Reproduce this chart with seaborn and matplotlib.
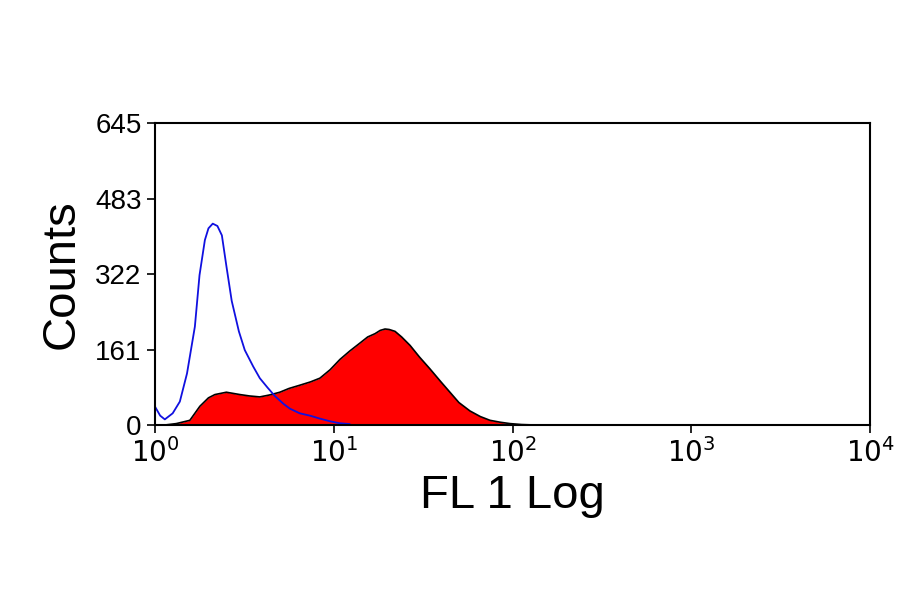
import numpy as np
import matplotlib
matplotlib.use("Agg")
import matplotlib.pyplot as plt
import seaborn as sns

# log10 fluorescence positions and counts
blue_log = [0.0, 0.03, 0.056, 0.10, 0.14, 0.18, 0.224, 0.25, 0.28, 0.30, 0.324, 0.35, 0.375, 0.40, 0.43,
            0.47, 0.503, 0.55, 0.587, 0.63, 0.671, 0.72, 0.755, 0.81, 0.867, 0.92, 0.979, 1.03, 1.09]
blue_counts = [40, 20, 12, 25, 50, 110, 210, 320, 395, 420, 430, 425, 405, 340, 265,
               200, 160, 125, 100, 80, 62, 45, 35, 25, 20, 14, 8, 4, 2]

red_log = [0.056, 0.12, 0.196, 0.252, 0.30, 0.336, 0.40, 0.476, 0.53, 0.587, 0.64, 0.699, 0.75, 0.811,
           0.87, 0.923, 0.98, 1.035, 1.09, 1.147, 1.19, 1.231, 1.26, 1.287, 1.31, 1.343, 1.38, 1.427,
           1.48, 1.538, 1.60, 1.65, 1.70, 1.762, 1.82, 1.874, 1.93, 1.986, 2.05, 2.126]
red_counts = [0, 3, 10, 40, 58, 65, 70, 65, 62, 60, 64, 70, 78, 85,
              92, 100, 118, 140, 158, 175, 188, 195, 202, 205, 204, 200, 188, 170,
              145, 120, 92, 70, 48, 30, 18, 10, 6, 3, 1, 0]

sns.set_style("white")
plt.rcParams['font.family'] = ['Liberation Sans', 'DejaVu Sans']

fig = plt.figure(figsize=(9, 5.94), dpi=100)
ax = fig.add_axes([0.172, 0.2845, 0.795, 0.5085])

rx = np.power(10.0, red_log)
bx = np.power(10.0, blue_log)
ax.fill_between(rx, red_counts, color="#ff0000", linewidth=0)
sns.lineplot(x=rx, y=red_counts, ax=ax, color="black", linewidth=1.2)
sns.lineplot(x=bx, y=blue_counts, ax=ax, color="#1010e0", linewidth=1.3)

ax.set_xscale("log")
ax.set_xlim(1, 1e4)
ax.set_ylim(0, 645)
ax.set_xticks([1, 10, 100, 1000, 10000])
ax.set_xticklabels([r"$10^0$", r"$10^1$", r"$10^2$", r"$10^3$", r"$10^4$"])
ax.minorticks_off()
ax.set_yticks([0, 161, 322, 483, 645])
ax.tick_params(axis="both", labelsize=20, direction="out", length=6, width=1.2, colors="black", bottom=True, left=True)
for s in ax.spines.values():
    s.set_color("black")
    s.set_linewidth(1.5)
ax.set_xlabel("FL 1 Log", fontsize=34, labelpad=4, color="black")
ax.set_ylabel("Counts", fontsize=34, labelpad=8, color="black")

fig.savefig("out.png", dpi=100)
